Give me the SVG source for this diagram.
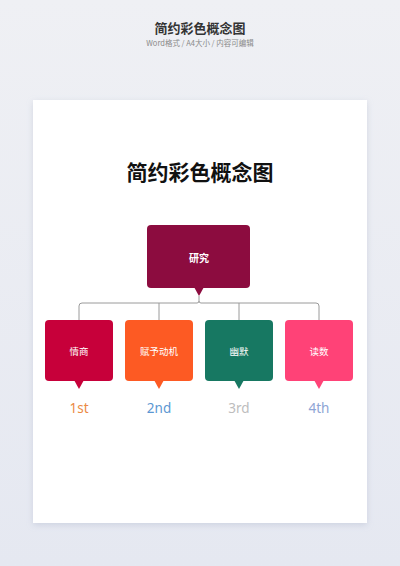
<svg xmlns="http://www.w3.org/2000/svg" width="400" height="566" viewBox="0 0 400 566">
  <defs>
    <linearGradient id="bg" x1="0" y1="0" x2="0" y2="1">
      <stop offset="0" stop-color="#eff0f4"/>
      <stop offset="1" stop-color="#e5e8f1"/>
    </linearGradient>
    <filter id="sh" x="-10%" y="-10%" width="120%" height="120%">
      <feDropShadow dx="0" dy="2" stdDeviation="3" flood-color="#a0a8c0" flood-opacity="0.35"/>
    </filter>
  </defs>
  <style>
    .cjk { font-family: "Noto Sans CJK SC", "Noto Sans", sans-serif; }
    .box-text { font-family: "Noto Sans CJK SC", sans-serif; font-size: 9.5px; fill: #ffffff; text-anchor: middle; }
    .rank { font-family: "Noto Sans", "Open Sans", sans-serif; font-size: 13.5px; text-anchor: middle; }
    .conn { fill: none; stroke: #9a9a9a; stroke-width: 1; }
  </style>
  <rect width="400" height="566" fill="url(#bg)"/>
  <text x="200" y="33" class="cjk" font-size="13" font-weight="bold" fill="#333333" text-anchor="middle">简约彩色概念图</text>
  <text x="200" y="46" class="cjk" font-size="7.5" fill="#8a8a8a" text-anchor="middle">Word格式 / A4大小 / 内容可编辑</text>
  <rect x="33" y="100" width="334" height="423" fill="#ffffff" filter="url(#sh)"/>
  <text x="200" y="180" class="cjk" font-size="21" font-weight="bold" fill="#111111" text-anchor="middle">简约彩色概念图</text>

  <g id="connectors">
    <path class="conn" d="M199 296 V301 Q199 303 197 303 H82 Q79 303 79 306 V320"/>
    <path class="conn" d="M199 301 Q199 303 201 303 H316 Q319 303 319 306 V320"/>
    <path class="conn" d="M159 303 V320"/>
    <path class="conn" d="M239 303 V320"/>
  </g>

  <g id="root">
    <rect x="147" y="225" width="103" height="63" rx="4" fill="#8c0c3f"/>
    <path d="M194 287 L199 296 L204 287 Z" fill="#8c0c3f"/>
    <text x="199" y="262" class="cjk" font-size="10" font-weight="bold" fill="#ffffff" text-anchor="middle">研究</text>
  </g>

  <g id="node1">
    <rect x="45" y="320" width="68" height="61" rx="4" fill="#c7003a"/>
    <path d="M74 380 L79 389 L84 380 Z" fill="#c7003a"/>
    <text x="79" y="354.5" class="box-text">情商</text>
    <text x="79" y="413" class="rank" fill="#eb8a45">1st</text>
  </g>
  <g id="node2">
    <rect x="125" y="320" width="68" height="61" rx="4" fill="#fd5a23"/>
    <path d="M154 380 L159 389 L164 380 Z" fill="#fd5a23"/>
    <text x="159" y="354.5" class="box-text">赋予动机</text>
    <text x="159" y="413" class="rank" fill="#5b97d2">2nd</text>
  </g>
  <g id="node3">
    <rect x="205" y="320" width="68" height="61" rx="4" fill="#177862"/>
    <path d="M234 380 L239 389 L244 380 Z" fill="#177862"/>
    <text x="239" y="354.5" class="box-text">幽默</text>
    <text x="239" y="413" class="rank" fill="#bdbdbd">3rd</text>
  </g>
  <g id="node4">
    <rect x="285" y="320" width="68" height="61" rx="4" fill="#ff4277"/>
    <path d="M314 380 L319 389 L324 380 Z" fill="#ff4277"/>
    <text x="319" y="354.5" class="box-text">读数</text>
    <text x="319" y="413" class="rank" fill="#8ea5d5">4th</text>
  </g>
</svg>
